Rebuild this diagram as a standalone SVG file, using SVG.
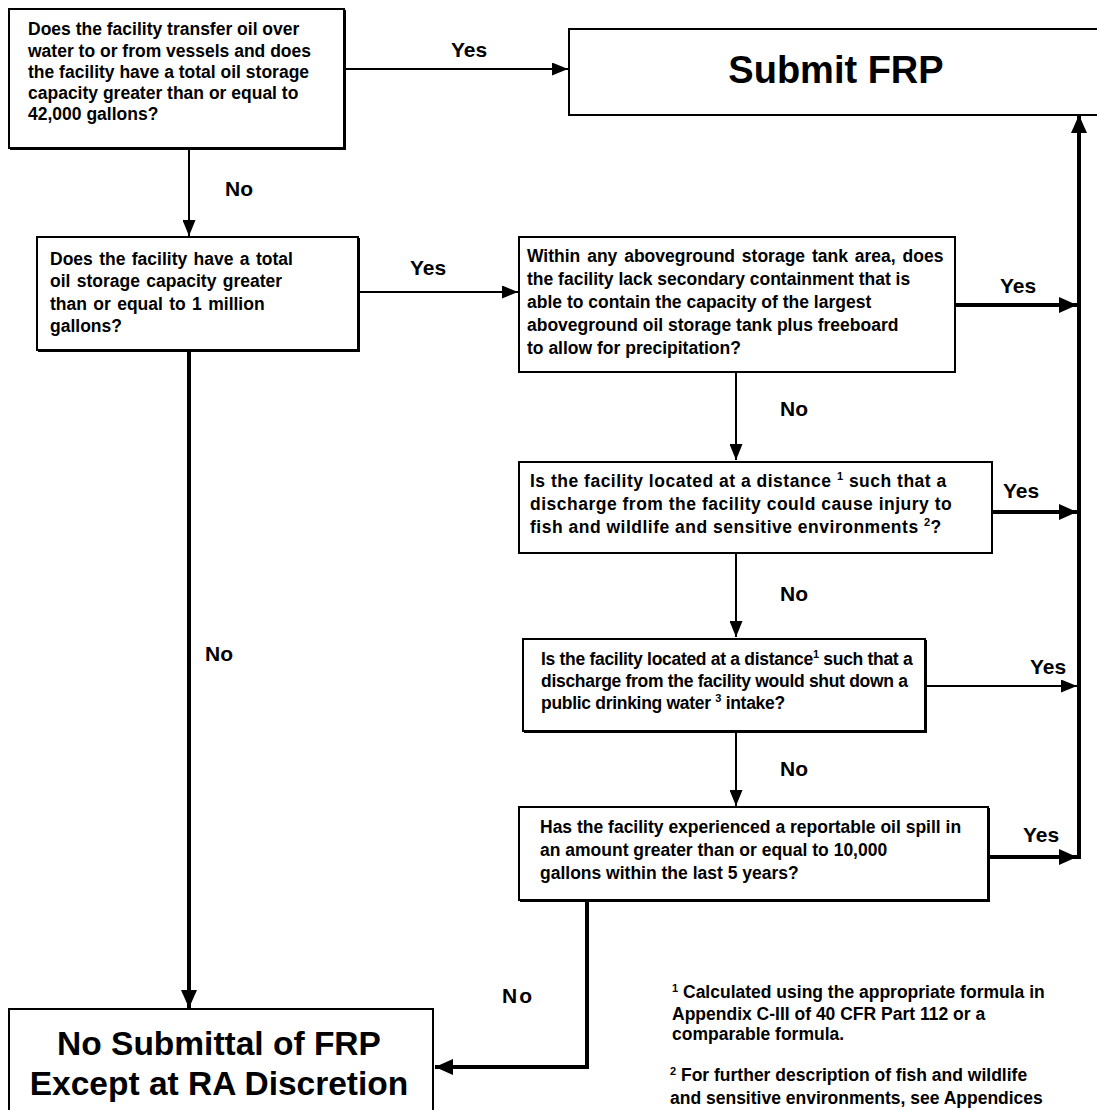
<svg xmlns="http://www.w3.org/2000/svg" width="1097" height="1110" viewBox="0 0 1097 1110">
<defs>
<marker id="ah" viewBox="0 0 16 13" refX="16" refY="6.5" markerWidth="16" markerHeight="13" markerUnits="userSpaceOnUse" orient="auto"><path d="M0,0 L16,6.5 L0,13 z" fill="#000"/></marker>
<marker id="ahb" viewBox="0 0 18 16" refX="18" refY="8" markerWidth="18" markerHeight="16" markerUnits="userSpaceOnUse" orient="auto"><path d="M0,0 L18,8 L0,16 z" fill="#000"/></marker>
</defs>
<style>
text{font-family:"Liberation Sans",Arial,sans-serif;font-weight:bold;fill:#000}
.q{font-size:17.5px}
.lbl{font-size:21px}
.big{font-size:33.5px}
.fn{font-size:17.5px}
.box{fill:#fff;stroke:#000;stroke-width:2}
.sh{fill:none;stroke:#000;stroke-width:2}
.thin{fill:none;stroke:#000;stroke-width:2;marker-end:url(#ah)}
.thick{fill:none;stroke:#000;stroke-width:4;marker-end:url(#ahb)}
.sup{font-size:11px}
</style>
<rect width="1097" height="1110" fill="#fff"/>
<g id="connectors">
<path class="thin" d="M344,69 H568"/>
<path class="thin" d="M189,148 V236"/>
<path class="thin" d="M358,292 H518"/>
<path class="thick" d="M955,305 H1077"/>
<path class="thin" d="M736,372 V460"/>
<path class="thick" d="M992,512 H1077"/>
<path class="thin" d="M736,553 V637"/>
<path class="thin" d="M925,686 H1077"/>
<path class="thin" d="M736,731 V806"/>
<path class="thick" d="M988,857 H1077"/>
<path class="thick" d="M1079,859 V115"/>
<path class="thick" d="M189,350 V1008"/>
<path class="thick" d="M587,900 V1067 H435"/>
<text class="lbl" x="451" y="57">Yes</text>
<text class="lbl" x="225" y="196">No</text>
<text class="lbl" x="410" y="275">Yes</text>
<text class="lbl" x="1000" y="293">Yes</text>
<text class="lbl" x="780" y="416">No</text>
<text class="lbl" x="1003" y="498">Yes</text>
<text class="lbl" x="780" y="601">No</text>
<text class="lbl" x="1030" y="674">Yes</text>
<text class="lbl" x="780" y="776">No</text>
<text class="lbl" x="1023" y="842">Yes</text>
<text class="lbl" x="502" y="1003" letter-spacing="2">No</text>
<text class="lbl" x="205" y="661">No</text>
</g>
<g id="q1">
<rect class="box" x="9" y="9" width="335" height="139"/>
<path class="sh" d="M345,10 V149 H10"/>
<text class="q"><tspan x="28" y="35">Does the facility transfer oil over</tspan><tspan x="28" y="56.5">water to or from vessels and does</tspan><tspan x="28" y="78">the facility have a total oil storage</tspan><tspan x="28" y="99">capacity greater than or equal to</tspan><tspan x="28" y="120">42,000 gallons?</tspan></text>
</g>
<g id="submit">
<rect class="box" x="569" y="29" width="540" height="86" stroke-width="2.5"/>
<text x="836" y="83" text-anchor="middle" font-size="38">Submit FRP</text>
</g>
<g id="q2">
<rect class="box" x="37" y="237" width="321" height="113"/>
<path class="sh" d="M359,238 V351 H38"/>
<text class="q" font-size="18" word-spacing="1.5"><tspan x="50" y="265">Does the facility have a total</tspan><tspan x="50" y="287">oil storage capacity greater</tspan><tspan x="50" y="310">than or equal to 1 million</tspan><tspan x="50" y="332">gallons?</tspan></text>
</g>
<g id="q3">
<rect class="box" x="519" y="237" width="436" height="135"/>
<text class="q"><tspan x="527" y="262" word-spacing="2">Within any aboveground storage tank area, does</tspan><tspan x="527" y="285">the facility lack secondary containment that is</tspan><tspan x="527" y="308">able to contain the capacity of the largest</tspan><tspan x="527" y="331">aboveground oil storage tank plus freeboard</tspan><tspan x="527" y="354">to allow for precipitation?</tspan></text>
</g>
<g id="q4">
<rect class="box" x="519" y="462" width="473" height="91" stroke-width="3"/>
<text class="q" font-size="18.5" letter-spacing="0.5"><tspan x="530" y="487">Is the facility located at a distance <tspan class="sup" dy="-7">1</tspan><tspan dy="7"> such that a</tspan></tspan><tspan x="530" y="510">discharge from the facility could cause injury to</tspan><tspan x="530" y="533">fish and wildlife and sensitive environments <tspan class="sup" dy="-7">2</tspan><tspan dy="7">?</tspan></tspan></text>
</g>
<g id="q5">
<rect class="box" x="523" y="639" width="402" height="92"/>
<path class="sh" d="M926,640 V732 H524"/>
<text class="q" font-size="16.5" letter-spacing="-0.3"><tspan x="541" y="665">Is the facility located at a distance<tspan class="sup" dy="-7">1</tspan><tspan dy="7"> such that a</tspan></tspan><tspan x="541" y="687">discharge from the facility would shut down a</tspan><tspan x="541" y="709">public drinking water <tspan class="sup" dy="-7">3</tspan><tspan dy="7"> intake?</tspan></tspan></text>
</g>
<g id="q6">
<rect class="box" x="519" y="807" width="469" height="93"/>
<path class="sh" d="M989,808 V901 H520"/>
<text class="q"><tspan x="540" y="833">Has the facility experienced a reportable oil spill in</tspan><tspan x="540" y="856">an amount greater than or equal to 10,000</tspan><tspan x="540" y="879">gallons within the last 5 years?</tspan></text>
</g>
<g id="nosubmit">
<rect class="box" x="9" y="1009" width="424" height="120" stroke-width="3"/>
<text class="big" text-anchor="middle"><tspan x="219" y="1055">No Submittal of FRP</tspan><tspan x="219" y="1095">Except at RA Discretion</tspan></text>
</g>
<g id="footnotes">
<text class="fn"><tspan x="672" y="998"><tspan class="sup" dy="-6">1</tspan><tspan dy="6"> Calculated using the appropriate formula in</tspan></tspan><tspan x="672" y="1020">Appendix C-III of 40 CFR Part 112 or a</tspan><tspan x="672" y="1040">comparable formula.</tspan><tspan x="670" y="1081"><tspan class="sup" dy="-6">2</tspan><tspan dy="6"> For further description of fish and wildlife</tspan></tspan><tspan x="670" y="1104">and sensitive environments, see Appendices</tspan></text>
</g>
</svg>
